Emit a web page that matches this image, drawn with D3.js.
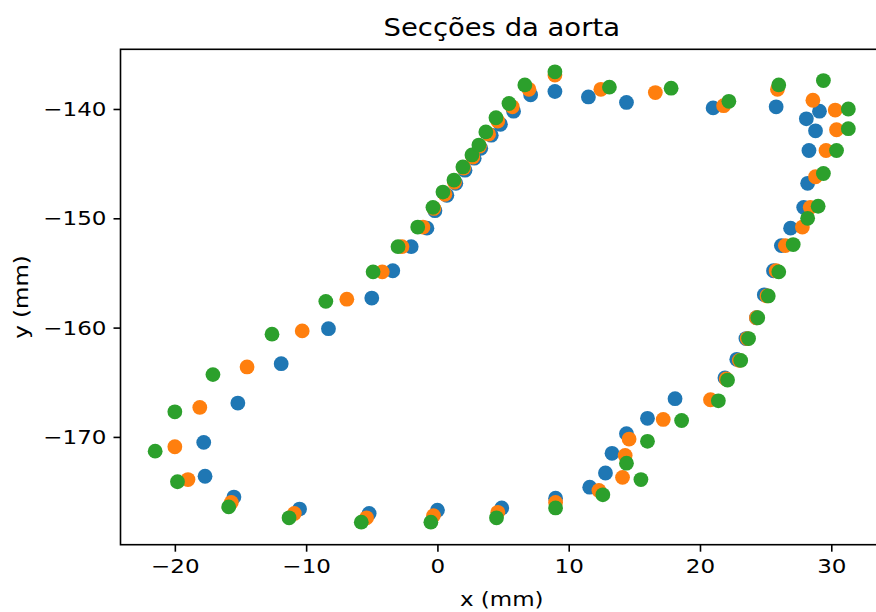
<!DOCTYPE html>
<html>
<head>
<meta charset="utf-8">
<script src="https://cdn.jsdelivr.net/npm/d3@7"></script>
<style>
  html, body { margin: 0; padding: 0; background: #fff; }
  svg { display: block; font-family: "DejaVu Sans", sans-serif; }
</style>
</head>
<body>
<svg id="chart" width="876" height="612"></svg>
<script>
// Aortic cross-sections: three contours (x, y in mm)
const sec1X = [-11.9, -8.3, -5.0, -3.4, -2.0, -0.8, -0.19, 0.72, 1.4, 2.1, 2.8, 3.3, 4.1, 4.8, 5.8, 7.1, 8.95,
  11.5, 14.4, 21.0, 25.8,
  29.1, 28.1, 28.8, 28.3, 28.2, 27.9, 26.9, 26.2, 25.6, 24.9, 24.3, 23.5, 22.8, 21.9,
  18.1, 16.0, 14.4, 13.3, 12.8, 11.6,
  9.0, 4.9, 0.0, -5.2, -10.5, -15.5,
  -17.7, -17.8, -15.2];
const sec1Y = [-163.3, -160.1, -157.3, -154.8, -152.6, -150.9, -149.3, -147.9, -146.8, -145.6, -144.5, -143.6, -142.4, -141.4, -140.2, -138.7, -138.4,
  -138.9, -139.4, -139.9, -139.8,
  -140.2, -140.9, -142.0, -143.8, -146.8, -149.0, -150.9, -152.5, -154.8, -157.0, -159.1, -161.0, -162.9, -164.6,
  -166.5, -168.3, -169.7, -171.5, -173.3, -174.6,
  -175.6, -176.5, -176.7, -177.0, -176.6, -175.5,
  -173.6, -170.5, -166.9];

const sec2X = [-14.5, -10.3, -6.9, -4.2, -2.7, -1.1, -0.27, 0.57, 1.3, 2.0, 2.7, 3.2, 3.9, 4.6, 5.7, 6.97, 8.95,
  12.45, 16.6, 21.8, 25.9,
  28.6, 30.3, 30.4, 29.6, 28.8, 28.4, 27.8, 26.5, 25.8, 25.1, 24.3, 23.6, 23.0, 22.0,
  20.8, 17.2, 14.6, 14.3, 14.1, 12.3,
  9.0, 4.6, -0.3, -5.4, -10.9, -15.7,
  -19.0, -20.0, -18.1];
const sec2Y = [-163.6, -160.3, -157.4, -154.9, -152.6, -150.8, -149.1, -147.8, -146.7, -145.4, -144.4, -143.4, -142.3, -141.1, -139.8, -138.2, -136.9,
  -138.2, -138.5, -139.7, -138.2,
  -139.2, -140.1, -141.9, -143.8, -146.2, -149.0, -150.8, -152.5, -154.8, -157.1, -159.1, -161.0, -163.0, -164.7,
  -166.6, -168.4, -170.2, -171.7, -173.7, -174.9,
  -176.0, -176.9, -177.2, -177.4, -177.0, -176.0,
  -173.9, -170.9, -167.3];

const sec3X = [-17.1, -12.6, -8.5, -4.9, -3.0, -1.5, -0.34, 0.42, 1.26, 1.94, 2.63, 3.16, 3.69, 4.46, 5.45, 6.66, 8.95,
  13.1, 17.8, 22.2, 26.0,
  29.4, 31.3, 31.3, 30.4, 29.4, 29.0, 28.2, 27.1, 26.0, 25.2, 24.4, 23.7, 23.1, 22.1,
  21.4, 18.6, 16.0, 14.4, 15.5, 12.6,
  9.0, 4.5, -0.5, -5.8, -11.3, -15.9,
  -19.8, -21.5, -20.0];
const sec3Y = [-164.3, -160.6, -157.6, -154.9, -152.6, -150.8, -149.0, -147.6, -146.5, -145.3, -144.2, -143.3, -142.1, -140.8, -139.5, -137.8, -136.6,
  -138.0, -138.1, -139.3, -137.8,
  -137.4, -140.0, -141.8, -143.8, -145.9, -148.9, -150.0, -152.4, -154.9, -157.1, -159.1, -161.0, -163.0, -164.8,
  -166.7, -168.5, -170.4, -172.4, -173.9, -175.3,
  -176.5, -177.4, -177.8, -177.8, -177.4, -176.4,
  -174.1, -171.3, -167.7];

const xTicks = [-20, -10, 0, 10, 20, 30];
const yTicks = [-170, -160, -150, -140];
const xLim = [-24.14, 33.94];
const yLim = [-179.86, -134.54];
const seriesColors = ["#1f77b4", "#ff7f0e", "#2ca02c"];

const titleText = "Secções da aorta";
const xLabel = "x (mm)";
const yLabel = "y (mm)";

const series = [
  { xs: sec1X, ys: sec1Y, color: seriesColors[0] },
  { xs: sec2X, ys: sec2Y, color: seriesColors[1] },
  { xs: sec3X, ys: sec3Y, color: seriesColors[2] }
];

const svg = d3.select("#chart");
const plot = { left: 120.5, top: 49.3, right: 883, bottom: 544.7 };

const x = d3.scaleLinear().domain(xLim).range([plot.left, plot.right]);
const y = d3.scaleLinear().domain(yLim).range([plot.bottom, plot.top]);

const tickFont = 20;
const stretch = 1.15;   // wide glyph rendering
const fmt = d3.format("d");

// points
const g = svg.append("g");
series.forEach(s => {
  g.append("g").selectAll("circle")
    .data(s.xs.map((v, i) => [v, s.ys[i]]))
    .join("circle")
    .attr("cx", d => x(d[0]))
    .attr("cy", d => y(d[1]))
    .attr("r", 7.4)
    .attr("fill", s.color);
});

// axes
const xAxis = d3.axisBottom(x).tickValues(xTicks).tickFormat(fmt).tickSize(7).tickPadding(7);
const yAxis = d3.axisLeft(y).tickValues(yTicks).tickFormat(fmt).tickSize(7).tickPadding(7);

const gx = svg.append("g").attr("transform", `translate(0,${plot.bottom})`).call(xAxis);
const gy = svg.append("g").attr("transform", `translate(${plot.left},0)`).call(yAxis);
[gx, gy].forEach(a => {
  a.select(".domain").remove();
  a.selectAll(".tick line").attr("stroke", "#000").attr("stroke-width", 1.6);
  a.selectAll(".tick text").attr("fill", "#000")
    .style("font-size", tickFont + "px")
    .style("font-family", "'DejaVu Sans', sans-serif");
});
// widen tick labels around their anchor
gx.selectAll(".tick text").attr("transform", `scale(${stretch},1)`);
gy.selectAll(".tick text").each(function () {
  const t = d3.select(this);
  const tx = +t.attr("x");
  t.attr("x", 0).attr("transform", `translate(${tx},0) scale(${stretch},1)`);
});

// spines
svg.append("rect")
  .attr("x", plot.left).attr("y", plot.top)
  .attr("width", plot.right - plot.left).attr("height", plot.bottom - plot.top)
  .attr("fill", "none").attr("stroke", "#000").attr("stroke-width", 1.6);

// title and axis labels
const midX = (plot.left + plot.right) / 2;
svg.append("text")
  .attr("transform", `translate(${midX},36) scale(1.12,1)`)
  .attr("text-anchor", "middle")
  .style("font-size", "24.5px")
  .text(titleText);

svg.append("text")
  .attr("transform", `translate(${midX},606) scale(${stretch},1)`)
  .attr("text-anchor", "middle")
  .style("font-size", tickFont + "px")
  .text(xLabel);

svg.append("text")
  .attr("transform", `translate(28,${(plot.top + plot.bottom) / 2}) rotate(-90) scale(${stretch},1)`)
  .attr("text-anchor", "middle")
  .style("font-size", tickFont + "px")
  .text(yLabel);
</script>
</body>
</html>
